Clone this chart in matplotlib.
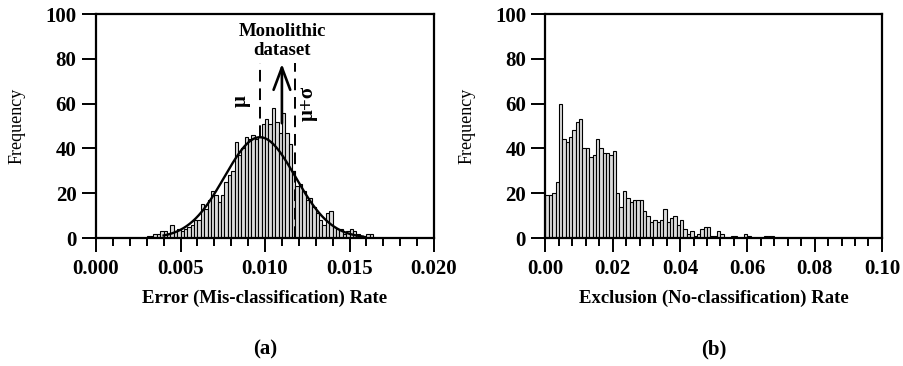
import matplotlib
matplotlib.use("Agg")
import matplotlib.pyplot as plt
from matplotlib.ticker import MultipleLocator, FormatStrFormatter
import numpy as np

plt.rcParams['font.family'] = ['Liberation Serif', 'DejaVu Serif']
plt.rcParams['font.weight'] = 'bold'

# (a) error rate histogram, bins of 0.0002 starting at 0.0030
err_start = 0.0030
err_width = 0.0002
err_counts = [1, 1, 2, 2, 3, 3, 2, 6, 3, 4, 3, 4, 5, 6, 8, 8, 15, 13, 17, 21,
              19, 16, 19, 25, 28, 30, 43, 37, 40, 45, 44, 46, 44, 45, 51, 53, 51, 58, 52, 47,
              56, 47, 42, 30, 23, 24, 21, 17, 18, 14, 11, 8, 6, 11, 12, 5, 4, 4, 2, 3,
              4, 3, 2, 1, 1, 2, 2, 0]

# fitted normal curve and markers
mu = 0.0097
sigma = 0.0021
fit_peak = 45
fit_range = (0.0040, 0.0158)
monolithic = 0.0110

# (b) exclusion rate histogram, bins of 0.001 starting at 0
exc_start = 0.0
exc_width = 0.001
exc_counts = [19, 19, 20, 25, 60, 44, 43, 45, 48, 52, 53, 40, 40, 36, 37, 44, 40, 38, 38, 37,
              39, 20, 14, 21, 18, 16, 17, 17, 17, 12, 10, 7, 8, 7, 8, 13, 7, 9, 10, 6,
              8, 4, 2, 3, 1, 2, 4, 5, 5, 1, 1, 3, 2, 0, 0, 1, 1, 0, 0, 2,
              1, 0, 0, 0, 0, 1, 1, 1]

fig = plt.figure(figsize=(9.04, 3.66), dpi=100)
ax1 = fig.add_axes([0.1062, 0.3497, 0.3739, 0.612])
ax2 = fig.add_axes([0.6034, 0.3497, 0.3722, 0.612])

fs = 15


def style(ax, major, minor, xmax, fmt, xlabel):
    ax.set_xlim(0, xmax)
    ax.set_ylim(0, 100)
    ax.xaxis.set_major_locator(MultipleLocator(major))
    ax.xaxis.set_minor_locator(MultipleLocator(minor))
    ax.xaxis.set_major_formatter(FormatStrFormatter(fmt))
    ax.yaxis.set_major_locator(MultipleLocator(20))
    ax.tick_params(axis='x', which='major', direction='out', length=10, width=1.4,
                   labelsize=fs, pad=5)
    ax.tick_params(axis='x', which='minor', direction='out', length=5.5, width=1.4)
    ax.tick_params(axis='y', which='major', direction='out', length=10, width=1.4,
                   labelsize=fs, pad=4)
    for s in ax.spines.values():
        s.set_linewidth(1.6)
    ax.set_ylabel("Frequency", fontsize=13, fontweight='normal', labelpad=14)
    ax.set_xlabel(xlabel, fontsize=13.5, fontweight='bold', labelpad=8)


# panel (a)
edges = err_start + err_width * np.arange(len(err_counts))
ax1.bar(edges, err_counts, width=err_width, align='edge', color='#dcdcdc',
        edgecolor='black', linewidth=0.8)
xs = np.linspace(fit_range[0], fit_range[1], 200)
ax1.plot(xs, fit_peak * np.exp(-0.5 * ((xs - mu) / sigma) ** 2), color='black', lw=1.7)
ax1.plot([mu, mu], [fit_peak, 78], color='black', lw=1.4, ls=(0, (6, 3.5)))
ax1.plot([mu + sigma, mu + sigma], [0, 78], color='black', lw=1.4, ls=(0, (6, 3.5)))
ax1.annotate('', xy=(monolithic, 79), xytext=(monolithic, 50),
             arrowprops=dict(arrowstyle='->,head_length=0.8,head_width=0.3',
                             lw=1.9, color='black', mutation_scale=20))
ax1.text(monolithic, 88, "Monolithic\ndataset", ha='center', va='center',
         fontsize=13.5, linespacing=1.2)
ax1.text(0.00858, 61, "μ", rotation=90, ha='center', va='center', fontsize=15)
ax1.text(0.01254, 60, "μ+σ", rotation=90, ha='center', va='center', fontsize=15)
style(ax1, 0.005, 0.001, 0.020, '%.3f', "Error (Mis-classification) Rate")

# panel (b)
edges = exc_start + exc_width * np.arange(len(exc_counts))
ax2.bar(edges, exc_counts, width=exc_width, align='edge', color='#dcdcdc',
        edgecolor='black', linewidth=0.8)
style(ax2, 0.02, 0.004, 0.10, '%.2f', "Exclusion (No-classification) Rate")

fig.text(0.293, 0.045, "(a)", ha='center', va='center', fontsize=fs)
fig.text(0.790, 0.045, "(b)", ha='center', va='center', fontsize=fs)

fig.savefig("out.png", dpi=100)
